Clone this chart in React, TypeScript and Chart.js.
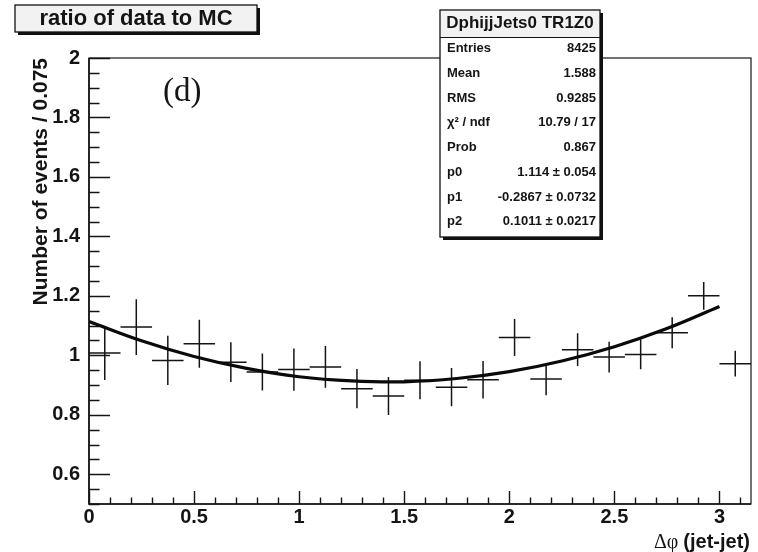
import React, { useEffect, useRef } from 'react';
import { Chart, registerables } from 'chart.js';

Chart.register(...registerables);

// ---- data ----
const binCenters = [0.075, 0.225, 0.375, 0.525, 0.675, 0.825, 0.975, 1.125, 1.275, 1.425, 1.575, 1.725, 1.875, 2.025, 2.175, 2.325, 2.475, 2.625, 2.775, 2.925, 3.075];
const ratioValues = [1.008, 1.095, 0.983, 1.039, 0.977, 0.944, 0.952, 0.961, 0.888, 0.863, 0.916, 0.893, 0.918, 1.060, 0.920, 1.019, 0.994, 1.003, 1.076, 1.200, 0.972];
const ratioErrors = [0.091, 0.094, 0.083, 0.081, 0.067, 0.062, 0.071, 0.070, 0.066, 0.064, 0.064, 0.064, 0.063, 0.062, 0.054, 0.055, 0.052, 0.050, 0.052, 0.047, 0.043];
const binHalfWidth = 0.075;

const fitX = [0, 0.25, 0.5, 0.75, 1.0, 1.25, 1.5, 1.75, 2.0, 2.25, 2.5, 2.75, 3.0];
const fitY = [1.114, 1.049, 0.996, 0.956, 0.928, 0.914, 0.911, 0.922, 0.945, 0.981, 1.029, 1.090, 1.164];

const xTicks = [0, 0.5, 1, 1.5, 2, 2.5, 3];
const yTicks = [0.6, 0.8, 1, 1.2, 1.4, 1.6, 1.8, 2];

const titleText = 'ratio of data to MC';
const panelLabel = '(d)';
const yTitle = 'Number of events / 0.075';
const xTitleSymbol = 'Δφ';
const xTitleText = '(jet-jet)';
const statsHeader = 'DphijjJets0 TR1Z0';
const statsLabels = ['Entries', 'Mean', 'RMS', 'χ² / ndf', 'Prob', 'p0', 'p1', 'p2'];
const statsValues = ['8425', '1.588', '0.9285', '10.79 / 17', '0.867', '1.114 ± 0.054', '-0.2867 ± 0.0732', '0.1011 ± 0.0217'];

const SANS = '"Liberation Sans", Arial, Helvetica, sans-serif';
const SERIF = '"Liberation Serif", "Times New Roman", serif';
const INK = '#141414';

const fmt = (v: number) => String(Number(v.toFixed(3)));

const rootPlugin = {
  id: 'rootStyle',
  beforeDatasetsDraw(chart: any) {
    const { ctx, chartArea: a, scales } = chart;
    const xs = scales.x, ys = scales.y;
    ctx.save();
    ctx.strokeStyle = INK;
    // ticks inside frame
    ctx.lineWidth = 1.4;
    ctx.beginPath();
    for (let k = 0; k <= 30; k++) {
      const v = 0.5 + k * 0.05;
      const py = Math.round(ys.getPixelForValue(v)) + 0.5;
      const major = Math.abs(v * 5 - Math.round(v * 5)) < 1e-6;
      ctx.moveTo(a.left, py);
      ctx.lineTo(a.left + (major ? 21 : 10.5), py);
    }
    for (let k = 0; k <= 31; k++) {
      const v = k * 0.1;
      const px = Math.round(xs.getPixelForValue(v)) + 0.5;
      const major = k % 5 === 0;
      ctx.moveTo(px, a.bottom);
      ctx.lineTo(px, a.bottom - (major ? 13 : 6.5));
    }
    ctx.stroke();
    // frame
    ctx.lineWidth = 1.2;
    ctx.strokeRect(a.left, a.top, a.right - a.left, a.bottom - a.top);
    ctx.lineWidth = 1.6;
    ctx.beginPath();
    ctx.moveTo(a.left, a.top);
    ctx.lineTo(a.left, a.bottom);
    ctx.lineTo(a.right, a.bottom);
    ctx.stroke();

    // error crosses
    ctx.lineWidth = 1.5;
    ctx.beginPath();
    binCenters.forEach((c, i) => {
      const v = ratioValues[i], e = ratioErrors[i];
      const x0 = xs.getPixelForValue(c - binHalfWidth), x1 = xs.getPixelForValue(c + binHalfWidth);
      const px = xs.getPixelForValue(c);
      const py = ys.getPixelForValue(v);
      ctx.moveTo(x0, py); ctx.lineTo(x1, py);
      ctx.moveTo(px, ys.getPixelForValue(v + e)); ctx.lineTo(px, ys.getPixelForValue(v - e));
    });
    ctx.stroke();
    ctx.restore();
  },
  afterDraw(chart: any) {
    const { ctx, chartArea: a } = chart;
    ctx.save();
    // panel label
    ctx.fillStyle = INK;
    ctx.font = `33px ${SERIF}`;
    ctx.textAlign = 'left';
    ctx.textBaseline = 'middle';
    ctx.fillText(panelLabel, 163, 92);

    // x title
    ctx.textAlign = 'right';
    ctx.textBaseline = 'alphabetic';
    ctx.font = `bold 20px ${SANS}`;
    const rightX = a.right - 1;
    ctx.fillText(xTitleText, rightX, 548);
    const w = ctx.measureText(xTitleText).width;
    ctx.font = `20px ${SERIF}`;
    ctx.fillText(xTitleSymbol + ' ', rightX - w, 548);

    // title box
    const drawBox = (l: number, t: number, r: number, b: number, fill: string) => {
      ctx.fillStyle = '#111';
      ctx.fillRect(l + 3, t + 3, r - l, b - t);
      ctx.fillStyle = fill;
      ctx.fillRect(l, t, r - l, b - t);
      ctx.strokeStyle = '#111';
      ctx.lineWidth = 1.3;
      ctx.strokeRect(l, t, r - l, b - t);
    };
    drawBox(15, 5, 257, 32, '#f2f2f2');
    ctx.fillStyle = INK;
    ctx.font = `bold 22px ${SANS}`;
    ctx.textAlign = 'center';
    ctx.textBaseline = 'middle';
    ctx.fillText(titleText, 136, 19);

    // stats box
    drawBox(440, 10, 600, 237, '#ffffff');
    ctx.fillStyle = '#f2f2f2';
    ctx.fillRect(441, 11, 158, 26);
    ctx.strokeStyle = '#111';
    ctx.lineWidth = 1.2;
    ctx.beginPath();
    ctx.moveTo(440, 37.5); ctx.lineTo(600, 37.5);
    ctx.stroke();
    ctx.fillStyle = INK;
    ctx.font = `bold 17px ${SANS}`;
    ctx.textAlign = 'center';
    ctx.fillText(statsHeader, 520, 23);
    ctx.font = `bold 13px ${SANS}`;
    statsLabels.forEach((lab, i) => {
      const y = 48.5 + i * 24.75;
      ctx.textAlign = 'left';
      ctx.fillText(lab, 447, y);
      ctx.textAlign = 'right';
      ctx.fillText(statsValues[i], 596, y);
    });
    ctx.restore();
  },
};

export default function App() {
  const ref = useRef<HTMLCanvasElement>(null);
  useEffect(() => {
    document.body.style.margin = '0';
    const chart = new Chart(ref.current as HTMLCanvasElement, {
      type: 'scatter',
      data: {
        datasets: [
          {
            label: 'data/MC',
            data: binCenters.map((x, i) => ({ x, y: ratioValues[i] })),
            pointRadius: 0,
            showLine: false,
          },
          {
            label: 'fit',
            data: fitX.map((x, i) => ({ x, y: fitY[i] })),
            showLine: true,
            pointRadius: 0,
            borderColor: '#0a0a0a',
            borderWidth: 3.2,
            tension: 0.4,
            fill: false,
          },
        ],
      },
      plugins: [rootPlugin],
      options: {
        animation: false,
        responsive: false,
        devicePixelRatio: 1,
        layout: { padding: { top: 58, right: 7, left: 0, bottom: 0 } },
        plugins: { legend: { display: false }, tooltip: { enabled: false } },
        scales: {
          x: {
            type: 'linear',
            min: 0,
            max: 3.15,
            afterFit: (s: any) => { s.height = 48; },
            afterBuildTicks: (s: any) => { s.ticks = xTicks.map((value) => ({ value })); },
            grid: { display: false, drawTicks: false },
            border: { display: false },
            ticks: {
              color: INK,
              font: { family: SANS, size: 20, weight: 'bold' },
              padding: 1,
              maxRotation: 0,
              autoSkip: false,
              callback: (v: any) => fmt(Number(v)),
            },
          },
          y: {
            type: 'linear',
            min: 0.5,
            max: 2,
            afterFit: (s: any) => { s.width = 89; },
            afterBuildTicks: (s: any) => { s.ticks = yTicks.map((value) => ({ value })); },
            grid: { display: false, drawTicks: false },
            border: { display: false },
            ticks: {
              color: INK,
              font: { family: SANS, size: 20, weight: 'bold' },
              padding: 9,
              autoSkip: false,
              callback: (v: any) => fmt(Number(v)),
            },
            title: {
              display: true,
              text: yTitle,
              align: 'end',
              color: INK,
              font: { family: SANS, size: 21, weight: 'bold' },
              padding: { top: 29, bottom: 0 },
            },
          },
        },
      } as any,
    });
    return () => chart.destroy();
  }, []);
  return (
    <div style={{ width: 758, height: 552, background: '#fff' }}>
      <canvas ref={ref} width={758} height={552} />
    </div>
  );
}
